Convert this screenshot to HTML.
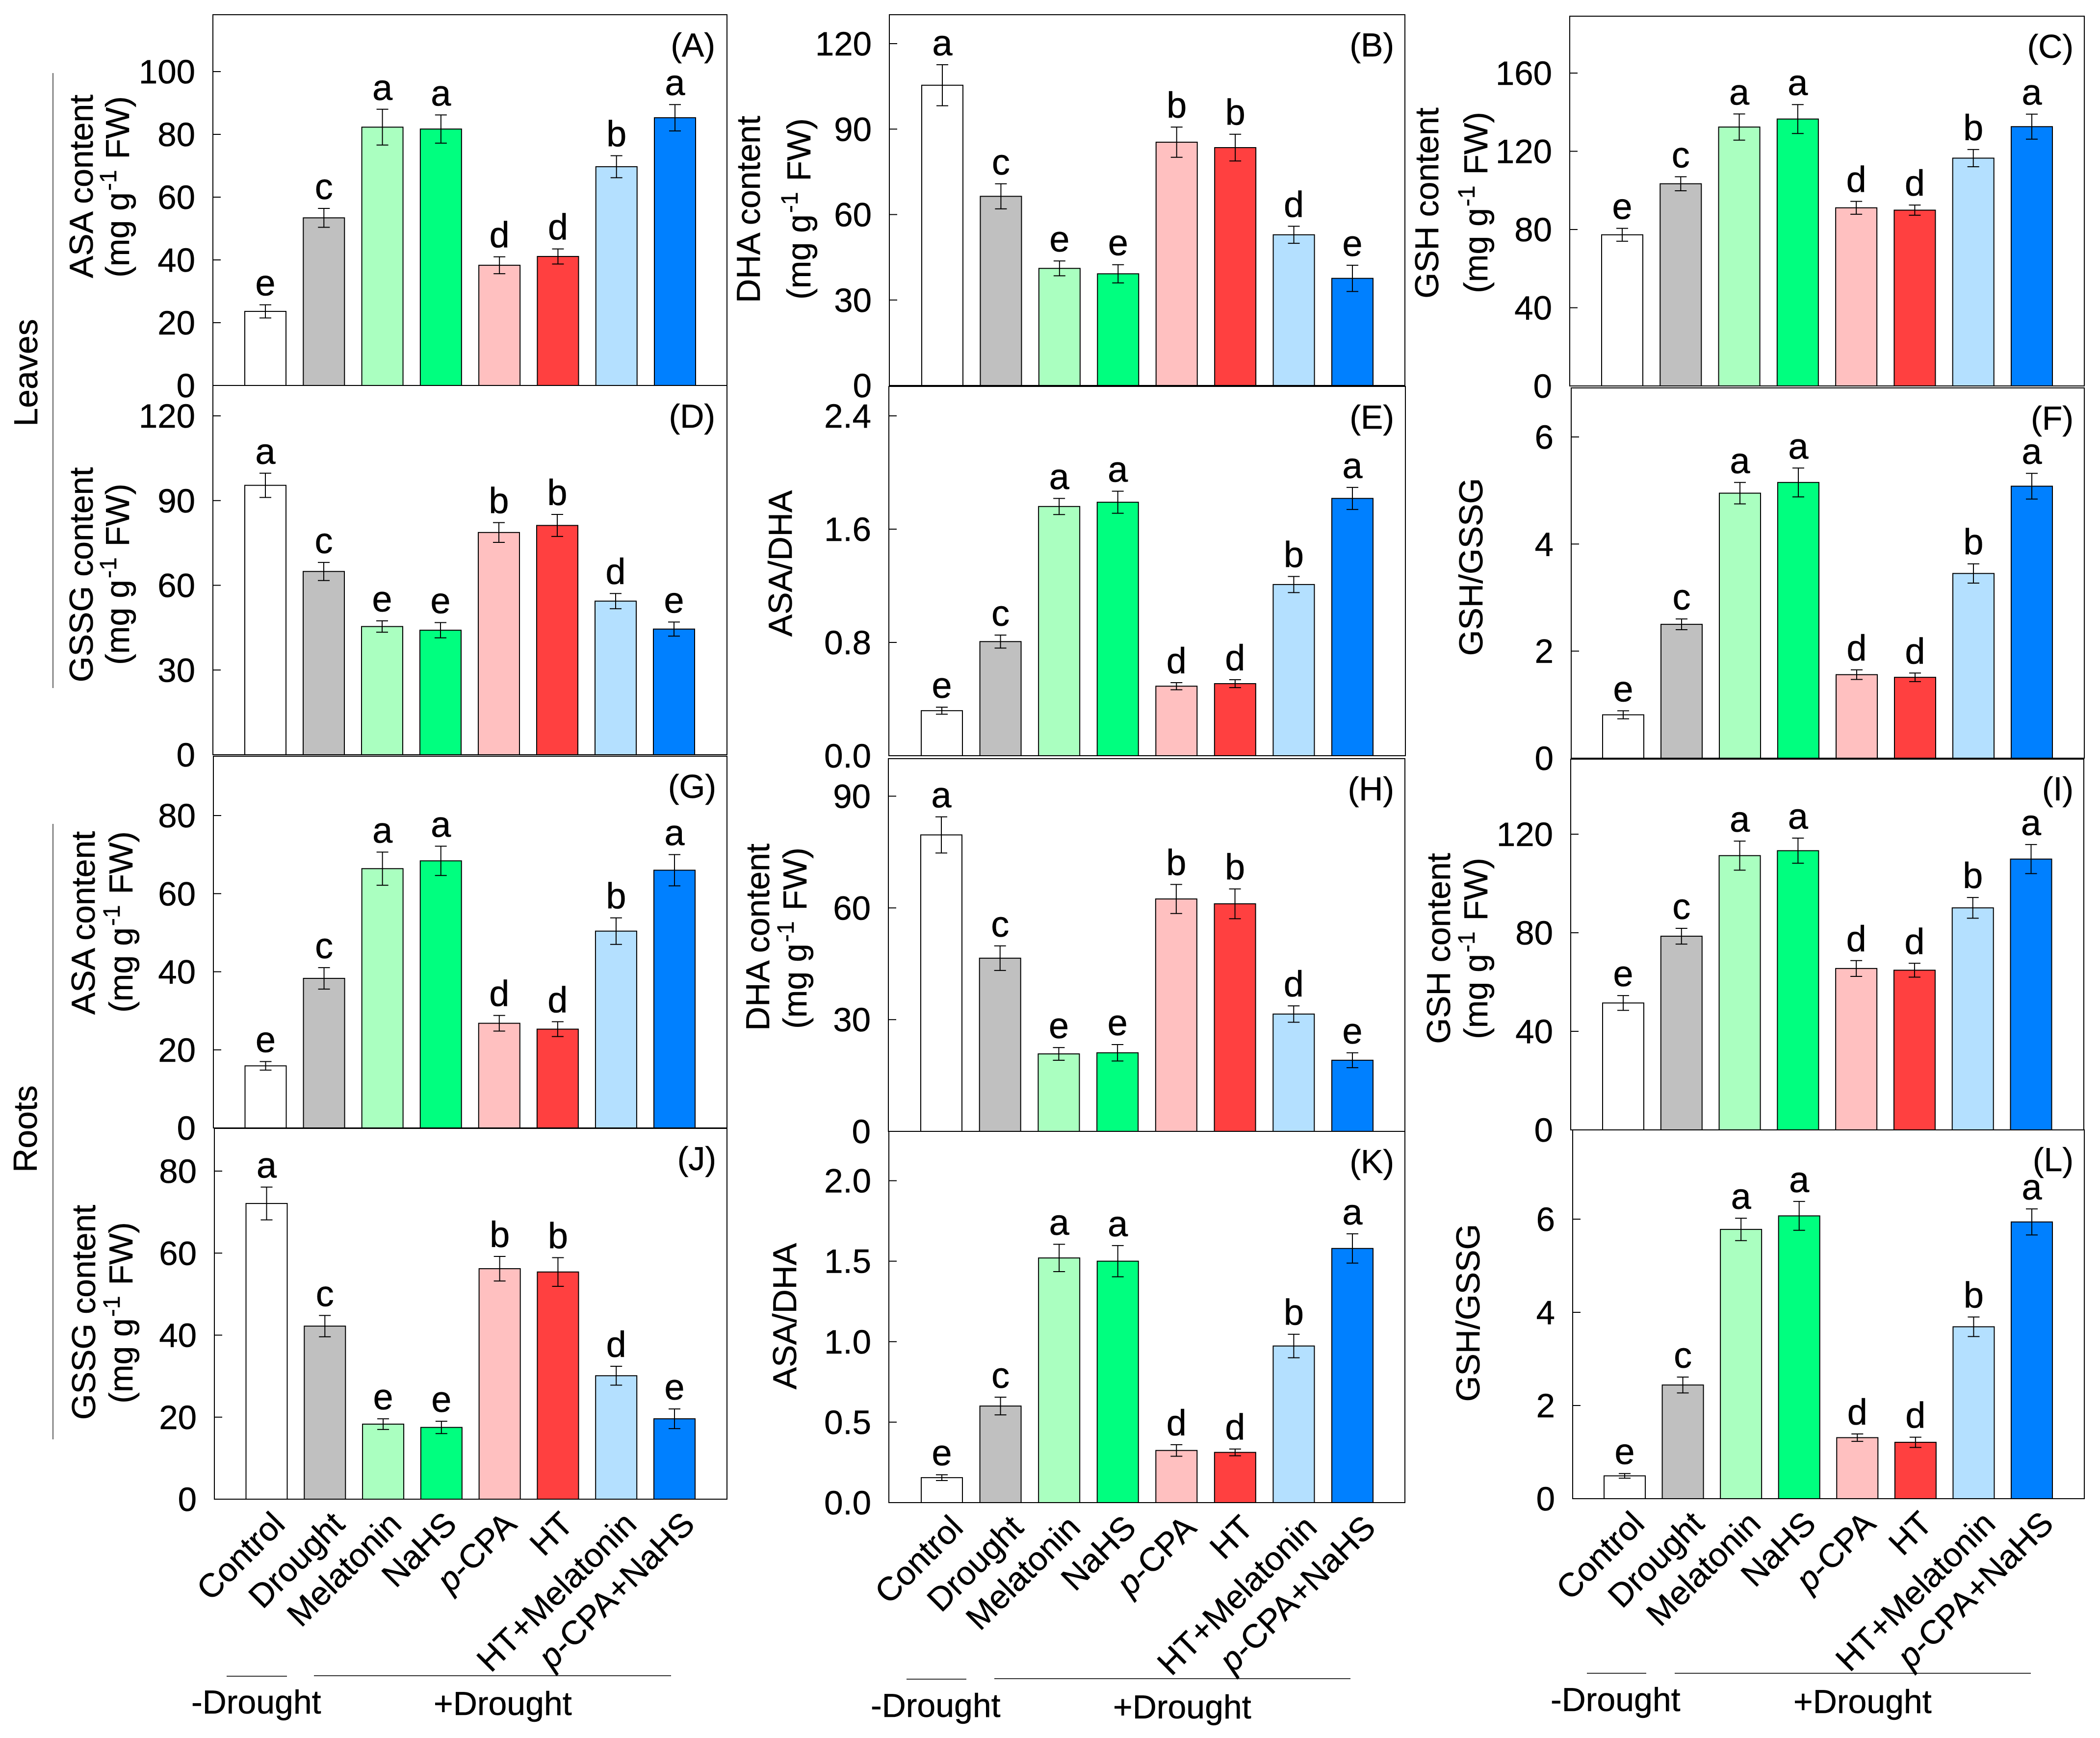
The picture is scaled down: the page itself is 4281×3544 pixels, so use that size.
<!DOCTYPE html>
<html lang="en">
<head>
<meta charset="utf-8">
<title>Antioxidant content bar charts</title>
<style>
html,body{margin:0;padding:0;background:#fff;}
svg{display:block;font-family:"Liberation Sans",Arial,sans-serif;fill:#000;}
text{stroke:#000;stroke-width:0.5px;}
.t{font-size:68px;}
.sup{font-size:48px;}
</style>
</head>
<body>
<svg id="figure" xmlns="http://www.w3.org/2000/svg" width="4281" height="3544" viewBox="0 0 4281 3544">
<rect x="0" y="0" width="4281" height="3544" fill="#fff"/>

<g>
<text class="t" transform="translate(76,760) rotate(-90)" text-anchor="middle">Leaves</text>
<text class="t" transform="translate(75,2302) rotate(-90)" text-anchor="middle">Roots</text>
<line x1="108" y1="149" x2="108" y2="1403" stroke="#222" stroke-width="1.5"/>
<line x1="108" y1="1680" x2="108" y2="2935" stroke="#222" stroke-width="1.5"/>
</g>

<g>
<text class="t" transform="translate(189,380) rotate(-90)" text-anchor="middle">ASA content</text>
<text class="t" transform="translate(263,381) rotate(-90)" text-anchor="middle">(mg g<tspan class="sup" dx="3" dy="-26">-1</tspan><tspan dx="3" dy="26"> FW)</tspan></text>
<text class="t" transform="translate(1549,427) rotate(-90)" text-anchor="middle">DHA content</text>
<text class="t" transform="translate(1652,426) rotate(-90)" text-anchor="middle">(mg g<tspan class="sup" dx="3" dy="-26">-1</tspan><tspan dx="3" dy="26"> FW)</tspan></text>
<text class="t" transform="translate(2932,414) rotate(-90)" text-anchor="middle">GSH content</text>
<text class="t" transform="translate(3032,413) rotate(-90)" text-anchor="middle">(mg g<tspan class="sup" dx="3" dy="-26">-1</tspan><tspan dx="3" dy="26"> FW)</tspan></text>
<text class="t" transform="translate(189,1172) rotate(-90)" text-anchor="middle">GSSG content</text>
<text class="t" transform="translate(263,1171) rotate(-90)" text-anchor="middle">(mg g<tspan class="sup" dx="3" dy="-26">-1</tspan><tspan dx="3" dy="26"> FW)</tspan></text>
<text class="t" transform="translate(1614,1149) rotate(-90)" text-anchor="middle">ASA/DHA</text>
<text class="t" transform="translate(3022,1156) rotate(-90)" text-anchor="middle">GSH/GSSG</text>
<text class="t" transform="translate(193,1882) rotate(-90)" text-anchor="middle">ASA content</text>
<text class="t" transform="translate(270,1880) rotate(-90)" text-anchor="middle">(mg g<tspan class="sup" dx="3" dy="-26">-1</tspan><tspan dx="3" dy="26"> FW)</tspan></text>
<text class="t" transform="translate(1568,1911) rotate(-90)" text-anchor="middle">DHA content</text>
<text class="t" transform="translate(1644,1913) rotate(-90)" text-anchor="middle">(mg g<tspan class="sup" dx="3" dy="-26">-1</tspan><tspan dx="3" dy="26"> FW)</tspan></text>
<text class="t" transform="translate(2956,1934) rotate(-90)" text-anchor="middle">GSH content</text>
<text class="t" transform="translate(3032,1934) rotate(-90)" text-anchor="middle">(mg g<tspan class="sup" dx="3" dy="-26">-1</tspan><tspan dx="3" dy="26"> FW)</tspan></text>
<text class="t" transform="translate(194,2676) rotate(-90)" text-anchor="middle">GSSG content</text>
<text class="t" transform="translate(270,2677) rotate(-90)" text-anchor="middle">(mg g<tspan class="sup" dx="3" dy="-26">-1</tspan><tspan dx="3" dy="26"> FW)</tspan></text>
<text class="t" transform="translate(1623,2684) rotate(-90)" text-anchor="middle">ASA/DHA</text>
<text class="t" transform="translate(3016,2677) rotate(-90)" text-anchor="middle">GSH/GSSG</text>
</g>

<g>
<text class="t" x="1458" y="115" text-anchor="end">(A)</text>
<text class="t" x="2842" y="115" text-anchor="end">(B)</text>
<text class="t" x="4227" y="118" text-anchor="end">(C)</text>
<text class="t" x="1458" y="872" text-anchor="end">(D)</text>
<text class="t" x="2842" y="874" text-anchor="end">(E)</text>
<text class="t" x="4227" y="876" text-anchor="end">(F)</text>
<text class="t" x="1460" y="1627" text-anchor="end">(G)</text>
<text class="t" x="2842" y="1632" text-anchor="end">(H)</text>
<text class="t" x="4227" y="1632" text-anchor="end">(I)</text>
<text class="t" x="1460" y="2386" text-anchor="end">(J)</text>
<text class="t" x="2842" y="2392" text-anchor="end">(K)</text>
<text class="t" x="4227" y="2388" text-anchor="end">(L)</text>
</g>

<g>
<line x1="462" y1="3418" x2="585" y2="3418" stroke="#333" stroke-width="2"/>
<line x1="640" y1="3417" x2="1368" y2="3417" stroke="#333" stroke-width="2"/>
<text class="t" x="390" y="3494">-Drought</text>
<text class="t" x="884" y="3497">+Drought</text>
<line x1="1848" y1="3424" x2="1970" y2="3424" stroke="#333" stroke-width="2"/>
<line x1="2027" y1="3423" x2="2753" y2="3423" stroke="#333" stroke-width="2"/>
<text class="t" x="1775" y="3501">-Drought</text>
<text class="t" x="2269" y="3504">+Drought</text>
<line x1="3235" y1="3412" x2="3356" y2="3412" stroke="#333" stroke-width="2"/>
<line x1="3414" y1="3412" x2="4140" y2="3412" stroke="#333" stroke-width="2"/>
<text class="t" x="3161" y="3489">-Drought</text>
<text class="t" x="3656" y="3493">+Drought</text>
</g>
</svg>

<script>
const categories = ["Control","Drought","Melatonin","NaHS","p-CPA","HT","HT+Melatonin","p-CPA+NaHS"];

const valuesA = [23.6,53.4,82.3,81.7,38.3,41.1,69.7,85.3];
const errorsA = [2.1,3.0,5.7,4.5,2.7,2.4,3.5,4.2];
const lettersA = ["e","c","a","a","d","d","b","a"];
const ticksA = ["0","20","40","60","80","100"];

const valuesB = [105.4,66.4,41.1,39.2,85.4,83.5,52.9,37.6];
const errorsB = [7.2,4.4,2.6,3.2,5.3,4.7,3.0,4.6];
const lettersB = ["a","c","e","e","b","b","d","e"];
const ticksB = ["0","30","60","90","120"];

const valuesC = [77.3,103.4,132.4,136.5,91.1,89.9,116.5,132.6];
const errorsC = [3.3,3.6,6.7,7.4,3.3,2.6,4.4,6.4];
const lettersC = ["e","c","a","a","d","d","b","a"];
const ticksC = ["0","40","80","120","160"];

const valuesD = [95.4,64.9,45.4,44.1,78.7,81.2,54.4,44.5];
const errorsD = [4.3,3.2,2.0,2.7,3.5,3.9,2.7,2.5];
const lettersD = ["a","c","e","e","b","b","d","e"];
const ticksD = ["0","30","60","90","120"];

const valuesE = [0.318,0.806,1.76,1.79,0.491,0.509,1.209,1.817];
const errorsE = [0.025,0.046,0.057,0.078,0.025,0.028,0.057,0.078];
const lettersE = ["e","c","a","a","d","d","b","a"];
const ticksE = ["0.0","0.8","1.6","2.4"];

const valuesF = [0.81,2.5,4.95,5.15,1.56,1.51,3.45,5.08];
const errorsF = [0.075,0.10,0.2,0.27,0.09,0.08,0.18,0.24];
const lettersF = ["e","c","a","a","d","d","b","a"];
const ticksF = ["0","2","4","6"];

const valuesG = [15.9,38.3,66.4,68.4,26.8,25.3,50.4,66.0];
const errorsG = [1.1,2.75,4.25,3.75,2.0,1.9,3.4,4.0];
const lettersG = ["e","c","a","a","d","d","b","a"];
const ticksG = ["0","20","40","60","80"];

const valuesH = [79.6,46.5,20.8,21.1,62.4,61.1,31.5,19.1];
const errorsH = [4.85,3.3,1.7,2.2,3.9,4.0,2.2,2.0];
const lettersH = ["a","c","e","e","b","b","d","e"];
const ticksH = ["0","30","60","90"];

const valuesI = [51.5,78.6,111.3,113.3,65.5,64.8,90.1,109.9];
const errorsI = [3.0,3.2,5.9,5.1,3.2,2.8,4.2,5.9];
const lettersI = ["e","c","a","a","d","d","b","a"];
const ticksI = ["0","40","80","120"];

const valuesJ = [72.1,42.2,18.3,17.5,56.2,55.4,30.1,19.6];
const errorsJ = [4.0,2.6,1.3,1.5,3.0,3.5,2.3,2.4];
const lettersJ = ["a","c","e","e","b","b","d","e"];
const ticksJ = ["0","20","40","60","80"];

const valuesK = [0.155,0.6,1.52,1.5,0.324,0.312,0.973,1.579];
const errorsK = [0.018,0.055,0.085,0.097,0.036,0.021,0.073,0.091];
const lettersK = ["e","c","a","a","d","d","b","a"];
const ticksK = ["0.0","0.5","1.0","1.5","2.0"];

const valuesL = [0.49,2.44,5.78,6.07,1.31,1.21,3.69,5.94];
const errorsL = [0.05,0.17,0.24,0.31,0.08,0.11,0.21,0.28];
const lettersL = ["e","c","a","a","d","d","b","a"];
const ticksL = ["0","2","4","6"];

const barColors = ["#ffffff","#c0c0c0","#aaffc0","#00ff7f","#ffc0c0","#ff4040","#b4e0ff","#0080ff"];

const SVG_NS = "http://www.w3.org/2000/svg";
const svg = document.getElementById("figure");

function make(tag, parent, attrs) {
  const el = document.createElementNS(SVG_NS, tag);
  for (const k in attrs) el.setAttribute(k, attrs[k]);
  parent.appendChild(el);
  return el;
}

function drawPanel(p) {
  const group = make("g", svg, {});
  
  

  const maxTick = parseFloat(p.ticks[p.ticks.length - 1]);
  const yScale = v => p.bottom - v * (p.bottom - p.topTickY) / maxTick;
  const xScale = i => p.first + i * (p.last - p.first) / (categories.length - 1);
  const barW = 84;
  const capW = 12;

  const frame = make("rect", group, {x:p.left, y:p.top, width:p.right-p.left, height:p.bottom-p.top, fill:"none", stroke:"#000", "stroke-width":2});
  
  

  p.ticks.forEach(t => {
    const v = parseFloat(t);
    const y = yScale(v);
    if (v !== 0) {
      const tick = make("line", group, {x1:p.left, x2:p.left+16, y1:y, y2:y, stroke:"#000", "stroke-width":2});
      
      
    }
    const label = make("text", group, {x:p.left-36, y:y+24, "text-anchor":"end", "font-size":69});
    
    
    label.textContent = t;
  });

  p.values.forEach((v, i) => {
    const cx = xScale(i);
    const yTop = yScale(v);
    const bar = make("rect", group, {x:cx-barW/2, y:yTop, width:barW, height:p.bottom-yTop, fill:barColors[i], stroke:"#000", "stroke-width":2});
    
    

    const yHi = yScale(v + p.errors[i]);
    const yLo = yScale(v - p.errors[i]);
    const err = make("path", group, {d:`M${cx} ${yHi}V${yLo}M${cx-capW} ${yHi}H${cx+capW}M${cx-capW} ${yLo}H${cx+capW}`, fill:"none", stroke:"#000", "stroke-width":2});
    
    

    const letter = make("text", group, {x:cx, y:yHi-19, "text-anchor":"middle", "font-size":74});
    
    
    letter.textContent = p.letters[i];
  });

  if (p.showCategories) {
    const labelDx = [41,44,41,35,38,35,45,45];
    categories.forEach((c, i) => {
      const ax = xScale(i) + labelDx[i] + p.labelShift;
      const ay = p.bottom + 55;
      const label = make("text", group, {transform:`translate(${ax},${ay}) rotate(-45)`, "text-anchor":"end", "font-size":68});
      
      
      if (c.startsWith("p-")) {
        const it = make("tspan", label, {"font-style":"italic"});
        it.textContent = "p";
        const rest = make("tspan", label, {});
        rest.textContent = c.slice(1);
      } else {
        label.textContent = c;
      }
    });
  }
}

drawPanel({values:valuesA, errors:errorsA, letters:lettersA, ticks:ticksA, left:434, right:1482, top:30, bottom:786, topTickY:146, first:541, last:1376});
drawPanel({values:valuesB, errors:errorsB, letters:lettersB, ticks:ticksB, left:1813, right:2864, top:30, bottom:786, topTickY:89, first:1921, last:2757});
drawPanel({values:valuesC, errors:errorsC, letters:lettersC, ticks:ticksC, left:3200, right:4249, top:33, bottom:787, topTickY:149, first:3307, last:4142});
drawPanel({values:valuesD, errors:errorsD, letters:lettersD, ticks:ticksD, left:434, right:1482, top:786, bottom:1539, topTickY:848, first:541, last:1374});
drawPanel({values:valuesE, errors:errorsE, letters:lettersE, ticks:ticksE, left:1812, right:2865, top:788, bottom:1541, topTickY:848, first:1920, last:2757});
drawPanel({values:valuesF, errors:errorsF, letters:lettersF, ticks:ticksF, left:3203, right:4249, top:791, bottom:1546, topTickY:891, first:3309, last:4142});
drawPanel({values:valuesG, errors:errorsG, letters:lettersG, ticks:ticksG, left:435, right:1482, top:1542, bottom:2300, topTickY:1663, first:541.5, last:1375});
drawPanel({values:valuesH, errors:errorsH, letters:lettersH, ticks:ticksH, left:1811, right:2864, top:1547, bottom:2307, topTickY:1623.5, first:1919, last:2757});
drawPanel({values:valuesI, errors:errorsI, letters:lettersI, ticks:ticksI, left:3202, right:4248, top:1548, bottom:2304, topTickY:1701, first:3309, last:4140.5});
drawPanel({values:valuesJ, errors:errorsJ, letters:lettersJ, ticks:ticksJ, left:437, right:1482, top:2301, bottom:3057, topTickY:2388, first:543.5, last:1375, showCategories:true, labelShift:0});
drawPanel({values:valuesK, errors:errorsK, letters:lettersK, ticks:ticksK, left:1812, right:2864, top:2307, bottom:3064, topTickY:2407.6, first:1920, last:2757, showCategories:true, labelShift:6});
drawPanel({values:valuesL, errors:errorsL, letters:lettersL, ticks:ticksL, left:3206, right:4249, top:2304, bottom:3056, topTickY:2486, first:3312, last:4142, showCategories:true, labelShift:3});
</script>
</body>
</html>
